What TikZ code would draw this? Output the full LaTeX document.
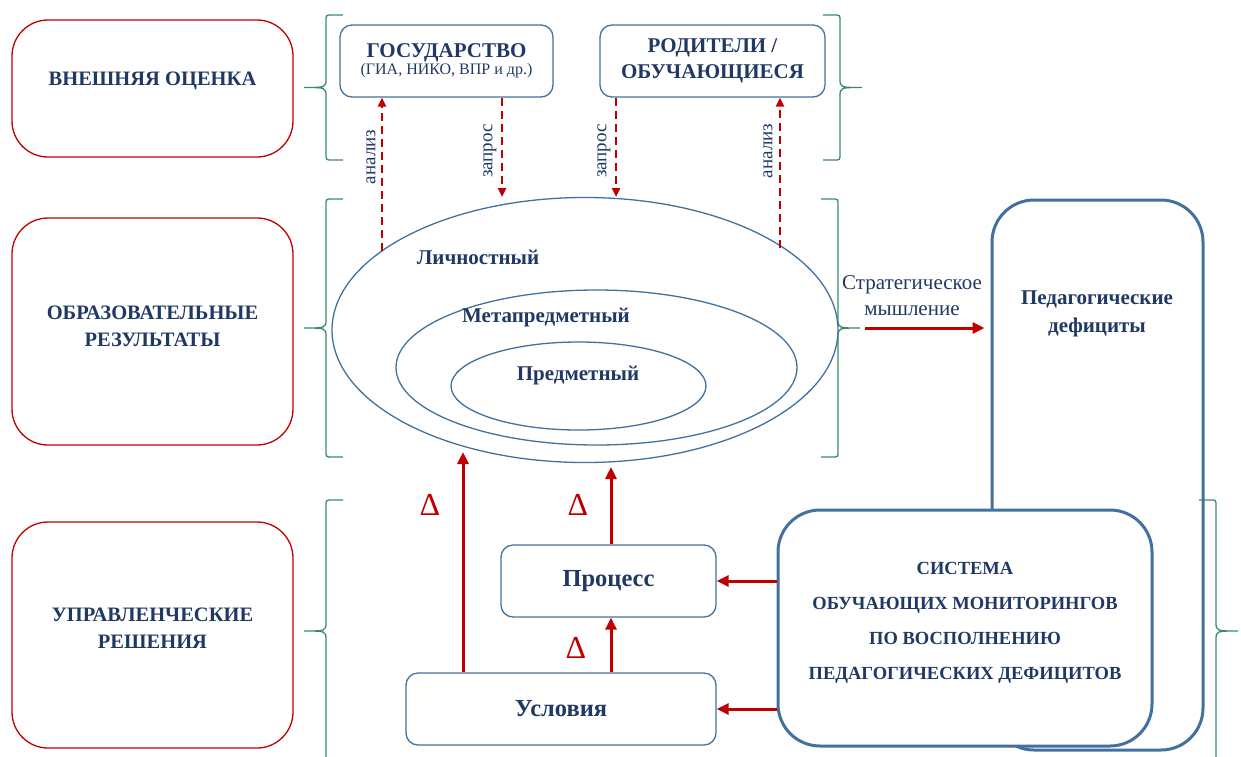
\documentclass[tikz,border=0pt]{standalone}
\usepackage{fontspec}
\setmainfont{Liberation Serif}
\usetikzlibrary{positioning, shapes.geometric, arrows.meta, calc}

\definecolor{navy}{HTML}{1F3864}
\definecolor{steel}{HTML}{41719C}
\definecolor{darkred}{HTML}{C00000}
\definecolor{brgreen}{HTML}{3A8A6A}

% green brace: bar x, top y, bottom y, side of the tip (-1 left, 1 right)
\newcommand{\sidebrace}[4]{%
  \draw[brc] ({#1-17*(#4)},#2) -- ({#1-6*(#4)},#2) .. controls (#1,#2) .. (#1,{#2+6})
    -- (#1,{(#2+#3)/2-9}) .. controls (#1,{(#2+#3)/2}) .. ({#1+22*(#4)},{(#2+#3)/2})
    .. controls (#1,{(#2+#3)/2}) .. (#1,{(#2+#3)/2+9})
    -- (#1,{#3-6}) .. controls (#1,#3) .. ({#1-6*(#4)},#3) -- ({#1-17*(#4)},#3);}

\begin{document}
\begin{tikzpicture}[
    x=1pt, y=-1pt,
    levelbox/.style={rectangle, draw=darkred, line width=1.3pt, rounded corners=36pt, minimum width=281pt},
    leveltext/.style={text=navy, align=center, font=\bfseries\fontsize{20.5}{27}\selectfont},
    srcbox/.style={rectangle, draw=steel, line width=1.3pt, rounded corners=12pt, minimum width=213pt, minimum height=72pt, text=navy, align=center},
    actbox/.style={rectangle, draw=steel, line width=1.3pt, rounded corners=12pt, minimum height=72pt, text=navy, font=\bfseries\fontsize{24.5}{28}\selectfont},
    bigbox/.style={rectangle, draw=steel, line width=3pt, rounded corners=42pt},
    ring/.style={ellipse, draw=steel, line width=1.3pt, inner sep=0pt},
    ringtext/.style={text=navy, font=\bfseries\fontsize{21}{25}\selectfont},
    vlabel/.style={rotate=90, text=navy, font=\fontsize{19}{22}\selectfont},
    delta/.style={text=darkred, font=\fontsize{32}{36}\selectfont},
    brc/.style={draw=brgreen, line width=1.3pt},
    dasharr/.style={draw=darkred, line width=2.4pt, dash pattern=on 8pt off 5pt, -{Triangle[length=9pt, width=8pt]}},
    redarr/.style={draw=darkred, line width=3pt, -{Triangle[length=12pt, width=11pt]}}
]
\useasboundingbox (0,0) rectangle (1241,756);

% Levels on the left
\node[levelbox, minimum height=137pt] (ext) at (152.5,88.5) {};
\node[levelbox, minimum height=227pt] (res) at (152.5,331.5) {};
\node[levelbox, minimum height=226pt] (dec) at (152.5,635) {};
\node[leveltext] (exttxt) at (152.5,81) {ВНЕШНЯЯ ОЦЕНКА};
\node[leveltext] (restxt) at (152.5,326) {ОБРАЗОВАТЕЛЬНЫЕ\\РЕЗУЛЬТАТЫ};
\node[leveltext] (dectxt) at (152.5,628) {УПРАВЛЕНЧЕСКИЕ\\РЕШЕНИЯ};

% Braces
\sidebrace{326}{15}{160}{-1}
\sidebrace{840}{15}{160}{1}
\sidebrace{326}{199}{457}{-1}
\sidebrace{838}{199}{457}{1}
\sidebrace{326}{500}{762}{-1}
\sidebrace{1216}{500}{762}{1}

% External assessment
\node[srcbox] (gos) at (446.5,61) {\bfseries\fontsize{21}{26}\selectfont ГОСУДАРСТВО\\{\fontsize{16}{18}\selectfont (ГИА, НИКО, ВПР и др.)}};
\node[srcbox, minimum width=225pt, font=\bfseries\fontsize{21}{26}\selectfont] (rod) at (712.5,61) {РОДИТЕЛИ /\\ОБУЧАЮЩИЕСЯ};

% Educational results
\node[ring, minimum width=506pt, minimum height=265pt] (outer) at (585,330) {};
\node[ring, minimum width=401pt, minimum height=155pt] (middle) at (596.5,367.5) {};
\node[ring, minimum width=255pt, minimum height=88pt] (inner) at (578.5,386) {};
\node[ringtext] (lichn) at (478,257) {Личностный};
\node[ringtext] (meta) at (546,317) {Метапредметный};
\node[ringtext] (pred) at (578,375) {Предметный};

% Requests and analysis
\coordinate (an1) at (382,251);
\coordinate (zq1) at (502,197);
\coordinate (zq2) at (616,197);
\coordinate (an2) at (780,248);
\draw[dasharr] (an1) -- (an1 |- gos.south);
\draw[dasharr] (gos.south -| zq1) -- (zq1);
\draw[dasharr] (rod.south -| zq2) -- (zq2);
\draw[dasharr] (an2) -- (an2 |- rod.south);
\node[vlabel] (an1txt) at (371,157) {анализ};
\node[vlabel] (zq1txt) at (490,151) {запрос};
\node[vlabel] (zq2txt) at (604,151) {запрос};
\node[vlabel] (an2txt) at (768,151) {анализ};

% Pedagogical deficits
\node[bigbox, minimum width=211pt, minimum height=550pt] (ped) at (1097.5,475) {};
\node[text=navy, align=center, font=\bfseries\fontsize{21}{28}\selectfont] (pedtxt) at (1097,314) {Педагогические\\дефициты};
\node[text=navy, align=center, font=\fontsize{21}{26}\selectfont] (strat) at (912,296) {Стратегическое\\мышление};
\coordinate (st) at (865,328);
\draw[redarr, shorten >=6pt] (st) -- (st -| ped.west);

% Monitoring system
\node[bigbox, fill=white, minimum width=374pt, minimum height=236pt, text=navy, align=center, font=\bfseries\fontsize{18.5}{35}\selectfont] (sys) at (965,628) {};
\node[text=navy, align=center, font=\bfseries\fontsize{18.5}{35}\selectfont] (systxt) at (965,623) {СИСТЕМА\\ОБУЧАЮЩИХ МОНИТОРИНГОВ\\ПО ВОСПОЛНЕНИЮ\\ПЕДАГОГИЧЕСКИХ ДЕФИЦИТОВ};

% Management decisions
\node[actbox, minimum width=215pt] (proc) at (608.5,581) {Процесс};
\node[actbox, minimum width=310pt] (usl) at (561,709) {Условия};
\draw[redarr] (proc.east -| sys.west) -- (proc.east);
\draw[redarr] (usl.east -| sys.west) -- (usl.east);
\coordinate (u1) at (463,452);
\coordinate (p1) at (611,467);
\draw[redarr] (u1 |- usl.north) -- (u1);
\draw[redarr] (p1 |- proc.north) -- (p1);
\draw[redarr] (p1 |- usl.north) -- (p1 |- proc.south);
\node[delta] (d1) at (430,505) {Δ};
\node[delta] (d2) at (578,505) {Δ};
\node[delta] (d3) at (576,648) {Δ};

\end{tikzpicture}
\end{document}
